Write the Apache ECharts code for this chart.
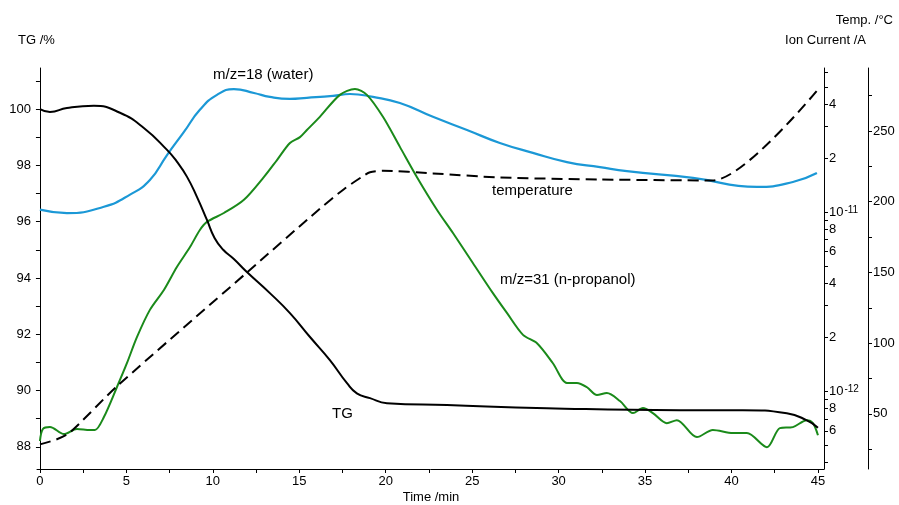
<!DOCTYPE html>
<html>
<head>
<meta charset="utf-8">
<script src="https://cdn.jsdelivr.net/npm/echarts@6/dist/echarts.min.js"></script>
<style>html,body{margin:0;padding:0;background:#fff;}#c{width:899px;height:505px;}</style>
</head>
<body>
<div id="c"></div>
<script>
// ---- tick labels ----
const timeTicks = [0, 5, 10, 15, 20, 25, 30, 35, 40, 45];
const timeMinorTicks = [0, 2.5, 5, 7.5, 10, 12.5, 15, 17.5, 20, 22.5, 25, 27.5, 30, 32.5, 35, 37.5, 40, 42.5, 45];
const tgLabels = [88, 90, 92, 94, 96, 98, 100];
const tgTicks = [88, 89, 90, 91, 92, 93, 94, 95, 96, 97, 98, 99, 100, 101];
const tempLabels = [50, 100, 150, 200, 250];
const tempTicks = [25, 50, 75, 100, 125, 150, 175, 200, 225, 250, 275];
const ionLabels = [6e-13, 8e-13, 1e-12, 2e-12, 4e-12, 6e-12, 8e-12, 1e-11, 2e-11, 4e-11];
const ionTicks = [4e-13, 5e-13, 6e-13, 7e-13, 8e-13, 9e-13, 1e-12, 2e-12, 3e-12, 4e-12, 5e-12, 6e-12, 7e-12, 8e-12, 9e-12, 1e-11, 2e-11, 3e-11, 4e-11, 5e-11, 6e-11];

// ---- TG /% ----
const tgTime  = [0, 0.58, 1.56, 3.12, 4.63, 6.01, 7.35, 7.9, 8.5, 9.08, 9.66, 10.1, 10.6, 11.2, 11.97, 13.30, 14.46, 15.62, 16.77, 17.76, 18.33, 19.09, 20.07, 23.54, 29.32, 37.0, 40.66, 43.2, 44.36, 45.0];
const tgValue = [100.0, 99.90, 100.04, 100.12, 99.87, 99.33, 98.55, 98.15, 97.60, 96.88, 96.06, 95.42, 95.00, 94.68, 94.21, 93.46, 92.75, 91.90, 91.08, 90.26, 89.90, 89.73, 89.55, 89.48, 89.37, 89.30, 89.30, 89.19, 88.94, 88.68];

// ---- Temperature /°C ----
const tempTime  = [0, 0.98, 1.74, 4.45, 11.97, 16.19, 17.6, 18.62, 19.09, 19.84, 22.73, 26.60, 32.39, 38.92, 45.0];
const tempValue = [28.4, 32.0, 36.9, 69.4, 149.9, 195.0, 209.0, 217.5, 220.8, 221.9, 220.0, 217.1, 215.7, 215.0, 279.3];

// ---- m/z=18 (water) ion current /A ----
const waterTime = [0, 1.56, 3.70, 5.21, 6.36, 7.35, 8.33, 9.25, 10.24, 11.22, 12.38, 13.30, 14.46, 15.44, 16.95, 17.93, 19.26, 20.82, 22.73, 24.70, 26.60, 28.51, 30.48, 32.39, 33.95, 37.77, 41.47, 43.55, 44.94];
const waterIon  = [1.03e-11, 0.986e-11, 1.07e-11, 1.25e-11, 1.51e-11, 2.08e-11, 2.80e-11, 3.72e-11, 4.51e-11, 4.86e-11, 4.62e-11, 4.39e-11, 4.28e-11, 4.34e-11, 4.45e-11, 4.56e-11, 4.39e-11, 4.06e-11, 3.40e-11, 2.87e-11, 2.43e-11, 2.14e-11, 1.90e-11, 1.78e-11, 1.69e-11, 1.55e-11, 1.38e-11, 1.47e-11, 1.65e-11];

// ---- m/z=31 (n-propanol) ion current /A ----
const propTime = [0, 0.17, 0.58, 1.39, 2.14, 2.89, 3.18, 3.70, 4.45, 5.03, 5.61, 6.36, 7.17, 7.92, 8.68, 9.25, 9.66, 10.64, 11.80, 12.96, 13.71, 14.46, 15.04, 15.44, 16.19, 17.35, 18.22, 18.91, 19.84, 20.82, 21.80, 22.96, 23.89, 25.04, 26.20, 27.01, 27.94, 28.75, 29.67, 30.48, 31.06, 31.64, 32.22, 32.79, 33.55, 34.30, 34.88, 35.45, 36.26, 36.84, 38.0, 38.92, 40.08, 40.89, 42.05, 42.80, 43.55, 44.36, 44.71, 45.0];
const propIon  = [5.26e-13, 6.14e-13, 6.30e-13, 5.75e-13, 6.14e-13, 6.06e-13, 6.06e-13, 7.16e-13, 1.05e-12, 1.43e-12, 2.00e-12, 2.84e-12, 3.67e-12, 4.93e-12, 6.37e-12, 7.93e-12, 8.80e-12, 9.87e-12, 1.17e-11, 1.57e-11, 1.95e-11, 2.43e-11, 2.62e-11, 2.87e-11, 3.40e-11, 4.51e-11, 4.86e-11, 4.51e-11, 3.40e-11, 2.31e-11, 1.57e-11, 1.03e-11, 7.63e-12, 5.19e-12, 3.52e-12, 2.73e-12, 2.06e-12, 1.85e-12, 1.43e-12, 1.11e-12, 1.11e-12, 1.05e-12, 9.50e-13, 9.75e-13, 8.79e-13, 7.53e-13, 8.03e-13, 7.53e-13, 6.62e-13, 6.88e-13, 5.53e-13, 6.06e-13, 5.83e-13, 5.83e-13, 4.86e-13, 6.21e-13, 6.29e-13, 6.88e-13, 6.62e-13, 5.67e-13];

const FONT = 'Liberation Sans, Arial, sans-serif';
const lg = v => Math.log10(v);
const zip = (a, b, f) => a.map((x, i) => [x, f ? f(b[i]) : b[i]]);

const ionFormatter = v => {
  const e = Math.floor(v + 1e-6);
  const m = Math.round(Math.pow(10, v - e));
  if (m === 1 || m === 10) return '10{sup|' + (m === 10 ? e + 1 : e) + '}';
  return String(m);
};

const axisLine = { show: true, lineStyle: { color: '#000', width: 1 } };
const labelStyle = { color: '#000', fontSize: 13, fontFamily: FONT };

const chart = echarts.init(document.getElementById('c'), null, { renderer: 'canvas' });
chart.setOption({
  animation: false,
  backgroundColor: '#fff',
  grid: { left: 37, right: 75, top: 68, bottom: 36, containLabel: false, outerBoundsMode: 'none' },
  xAxis: {
    type: 'value', min: -0.17, max: 45.35,
    axisLine: axisLine,
    axisTick: { show: true, inside: false, length: 4, lineStyle: { color: '#000' }, customValues: timeMinorTicks },
    axisLabel: Object.assign({ margin: 6, customValues: timeTicks }, labelStyle),
    splitLine: { show: false }
  },
  yAxis: [
    {
      type: 'value', position: 'left', min: 87.21, max: 101.46,
      axisLine: axisLine,
      axisTick: { show: true, length: 4, lineStyle: { color: '#000' }, customValues: tgTicks },
      axisLabel: Object.assign({ margin: 6, customValues: tgLabels }, labelStyle),
      splitLine: { show: false }
    },
    {
      type: 'value', position: 'right', offset: 0, min: lg(3.67e-13), max: lg(6.37e-11),
      axisLine: axisLine,
      axisTick: { show: true, length: 4, lineStyle: { color: '#000' }, customValues: ionTicks.map(lg) },
      axisLabel: Object.assign({
        margin: 5, customValues: ionLabels.map(lg), formatter: ionFormatter,
        rich: { sup: { fontSize: 10, fontFamily: FONT, color: '#000', verticalAlign: 'top', lineHeight: 10, padding: [0, 0, 6, 1] } }
      }, labelStyle),
      splitLine: { show: false }
    },
    {
      type: 'value', position: 'right', offset: 44, min: 11, max: 294.5,
      axisLine: axisLine,
      axisTick: { show: true, length: 4, lineStyle: { color: '#000' }, customValues: tempTicks },
      axisLabel: Object.assign({ margin: 5, customValues: tempLabels }, labelStyle),
      splitLine: { show: false }
    }
  ],
  series: [
    {
      name: 'm/z=18 (water)', type: 'line', yAxisIndex: 1, showSymbol: false, smooth: 0.5,
      data: zip(waterTime, waterIon, lg),
      lineStyle: { color: '#1b98d6', width: 2.2 }, itemStyle: { color: '#1b98d6' }
    },
    {
      name: 'm/z=31 (n-propanol)', type: 'line', yAxisIndex: 1, showSymbol: false, smooth: 0.3,
      data: zip(propTime, propIon, lg),
      lineStyle: { color: '#1a8a1a', width: 2 }, itemStyle: { color: '#1a8a1a' }
    },
    {
      name: 'temperature', type: 'line', yAxisIndex: 2, showSymbol: false, smooth: 0.25,
      data: zip(tempTime, tempValue),
      lineStyle: { color: '#000', width: 2, type: [11, 6] }, itemStyle: { color: '#000' }
    },
    {
      name: 'TG', type: 'line', yAxisIndex: 0, showSymbol: false, smooth: 0.5,
      data: zip(tgTime, tgValue),
      lineStyle: { color: '#000', width: 2 }, itemStyle: { color: '#000' }
    }
  ],
  graphic: [
    { type: 'text', x: 18, y: 40, style: { text: 'TG /%', fontSize: 13, fontFamily: FONT, fill: '#000', verticalAlign: 'middle' } },
    { type: 'text', x: 893, y: 20, style: { text: 'Temp. /°C', fontSize: 13, fontFamily: FONT, fill: '#000', align: 'right', verticalAlign: 'middle' } },
    { type: 'text', x: 866, y: 40, style: { text: 'Ion Current /A', fontSize: 13, fontFamily: FONT, fill: '#000', align: 'right', verticalAlign: 'middle' } },
    { type: 'text', x: 431, y: 497, style: { text: 'Time /min', fontSize: 13, fontFamily: FONT, fill: '#000', align: 'center', verticalAlign: 'middle' } },
    { type: 'text', x: 213, y: 75, style: { text: 'm/z=18 (water)', fontSize: 15, fontFamily: FONT, fill: '#000', verticalAlign: 'middle' } },
    { type: 'text', x: 492, y: 191, style: { text: 'temperature', fontSize: 15, fontFamily: FONT, fill: '#000', verticalAlign: 'middle' } },
    { type: 'text', x: 500, y: 280, style: { text: 'm/z=31 (n-propanol)', fontSize: 15, fontFamily: FONT, fill: '#000', verticalAlign: 'middle' } },
    { type: 'text', x: 332, y: 414, style: { text: 'TG', fontSize: 15, fontFamily: FONT, fill: '#000', verticalAlign: 'middle' } }
  ]
});
</script>
</body>
</html>
